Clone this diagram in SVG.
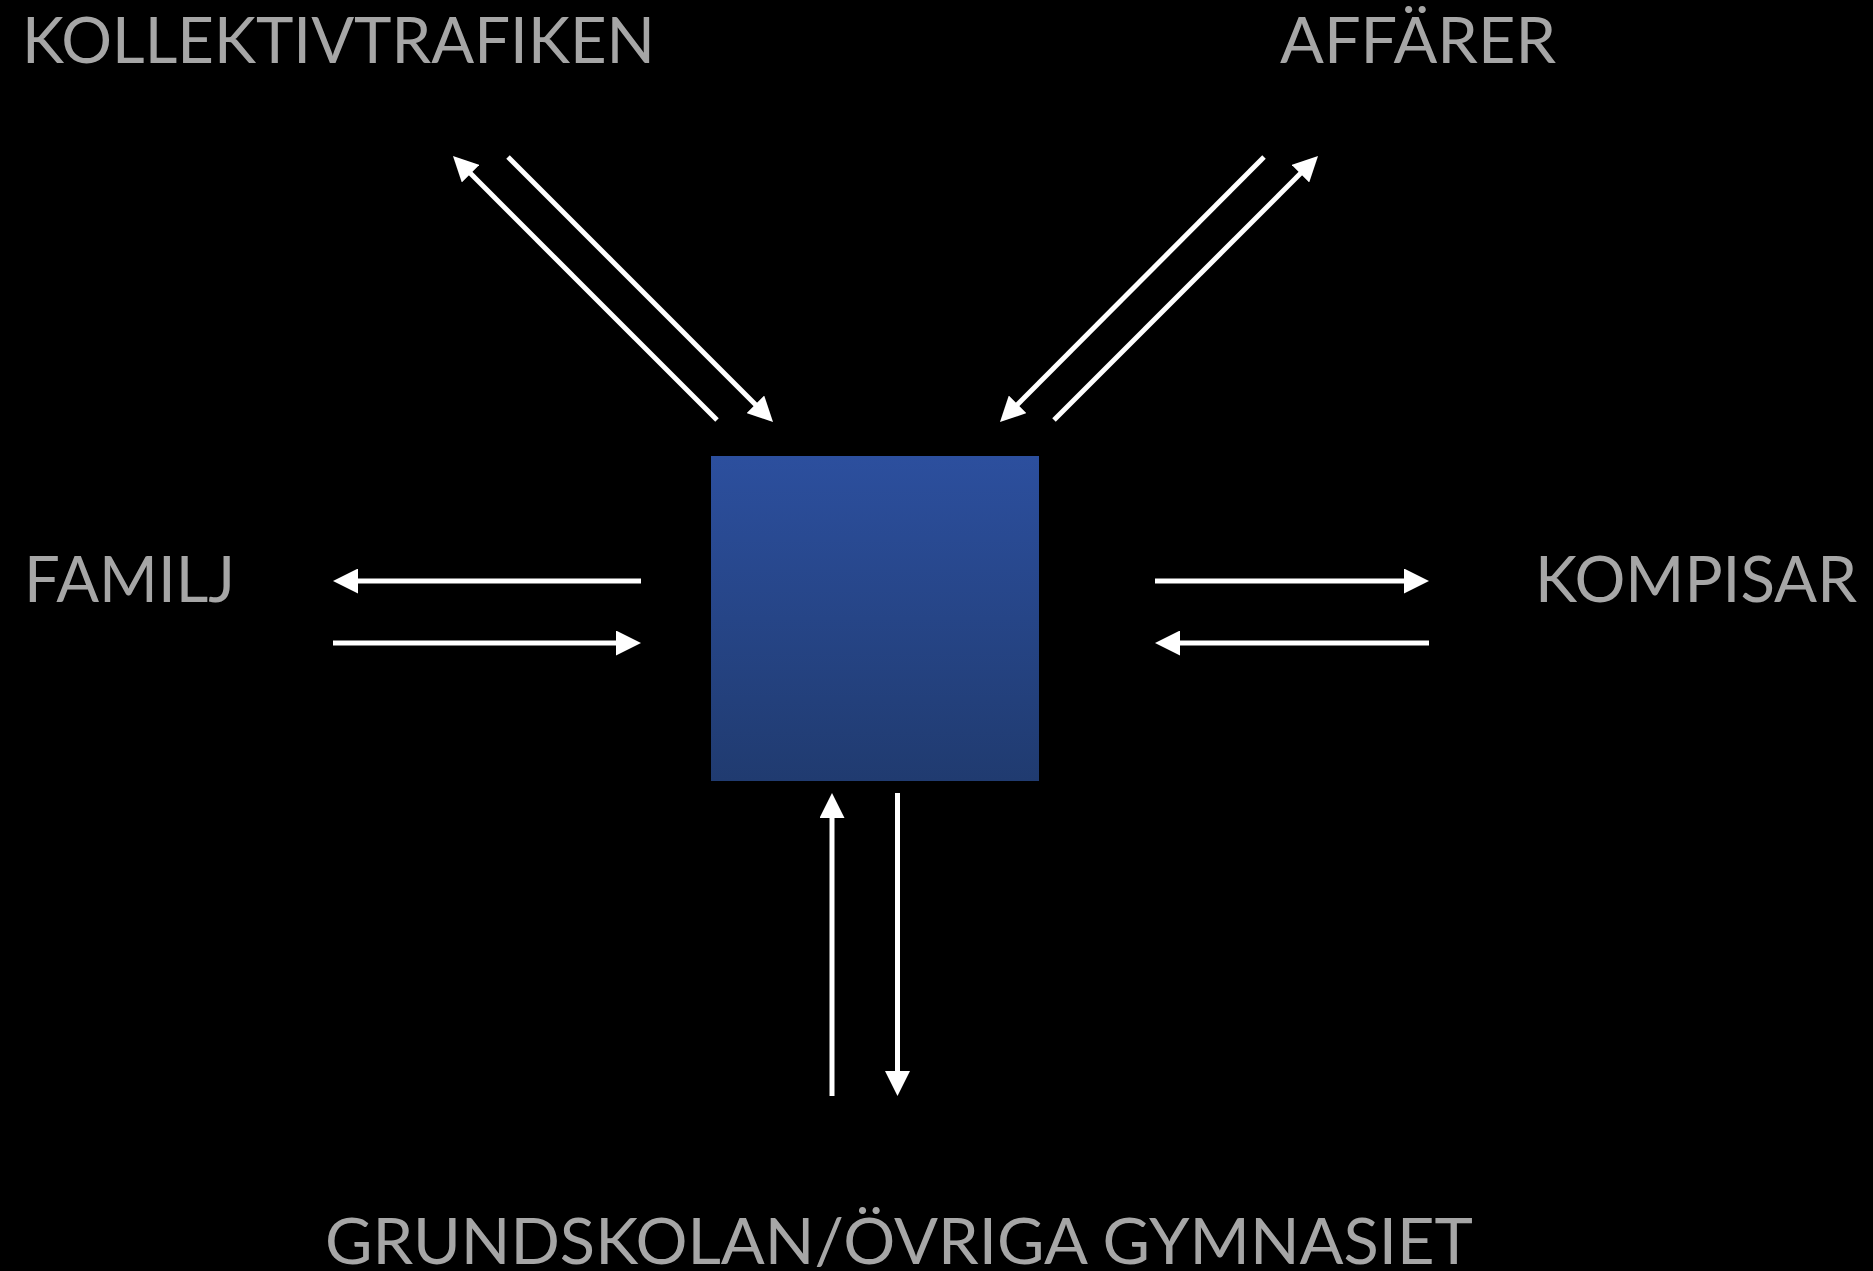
<svg xmlns="http://www.w3.org/2000/svg" width="1873" height="1271" viewBox="0 0 1873 1271">
  <style>
    .lbl { font-family: Lato, "Liberation Sans", sans-serif; font-size: 63px; fill: #a6a6a6; }
    .con { stroke: #ffffff; stroke-width: 5; fill: none; marker-end: url(#ah); }
  </style>
  <defs>
    <linearGradient id="boxg" x1="0" y1="0" x2="0" y2="1">
      <stop offset="0" stop-color="#2c4f9e"/>
      <stop offset="1" stop-color="#203b70"/>
    </linearGradient>
    <marker id="ah" markerUnits="userSpaceOnUse" viewBox="0 0 25 25" markerWidth="25" markerHeight="25" refX="5" refY="12.5" orient="auto">
      <path d="M0,0 L25,12.5 L0,25 Z" fill="#ffffff"/>
    </marker>
  </defs>
  <rect width="1873" height="1271" fill="#000000"/>

  <g id="center">
    <rect x="711" y="456" width="328" height="325" fill="url(#boxg)"/>
  </g>

  <g id="kollektivtrafiken">
    <text class="lbl" x="22" y="63" textLength="633" lengthAdjust="spacingAndGlyphs">KOLLEKTIVTRAFIKEN</text>
  </g>
  <g id="affarer">
    <text class="lbl" x="1280" y="63" textLength="276" lengthAdjust="spacingAndGlyphs">AFFÄRER</text>
  </g>
  <g id="familj">
    <text class="lbl" x="24" y="602" textLength="211" lengthAdjust="spacingAndGlyphs">FAMILJ</text>
  </g>
  <g id="kompisar">
    <text class="lbl" x="1535" y="602" textLength="322" lengthAdjust="spacingAndGlyphs">KOMPISAR</text>
  </g>
  <g id="grundskolan">
    <text class="lbl" x="325" y="1264" textLength="1148" lengthAdjust="spacingAndGlyphs">GRUNDSKOLAN/ÖVRIGA GYMNASIET</text>
  </g>

  <g id="connectors">
    <!-- diagonal left pair (45°, offset 20 along axis = 14.14 each) -->
    <line class="con" x1="717" y1="420" x2="467.1" y2="170.1"/>
    <line class="con" x1="508" y1="157" x2="758.9" y2="407.9"/>
    <!-- diagonal right pair -->
    <line class="con" x1="1264" y1="157" x2="1014.1" y2="407.9"/>
    <line class="con" x1="1054" y1="420" x2="1303.9" y2="170.1"/>
    <!-- left horizontal pair -->
    <line class="con" x1="641" y1="581" x2="353" y2="581"/>
    <line class="con" x1="333" y1="643" x2="621" y2="643"/>
    <!-- right horizontal pair -->
    <line class="con" x1="1155" y1="581" x2="1409" y2="581"/>
    <line class="con" x1="1429" y1="643" x2="1175" y2="643"/>
    <!-- vertical pair -->
    <line class="con" x1="832" y1="1096" x2="832" y2="813"/>
    <line class="con" x1="897.5" y1="793" x2="897.5" y2="1076"/>
  </g>
</svg>
